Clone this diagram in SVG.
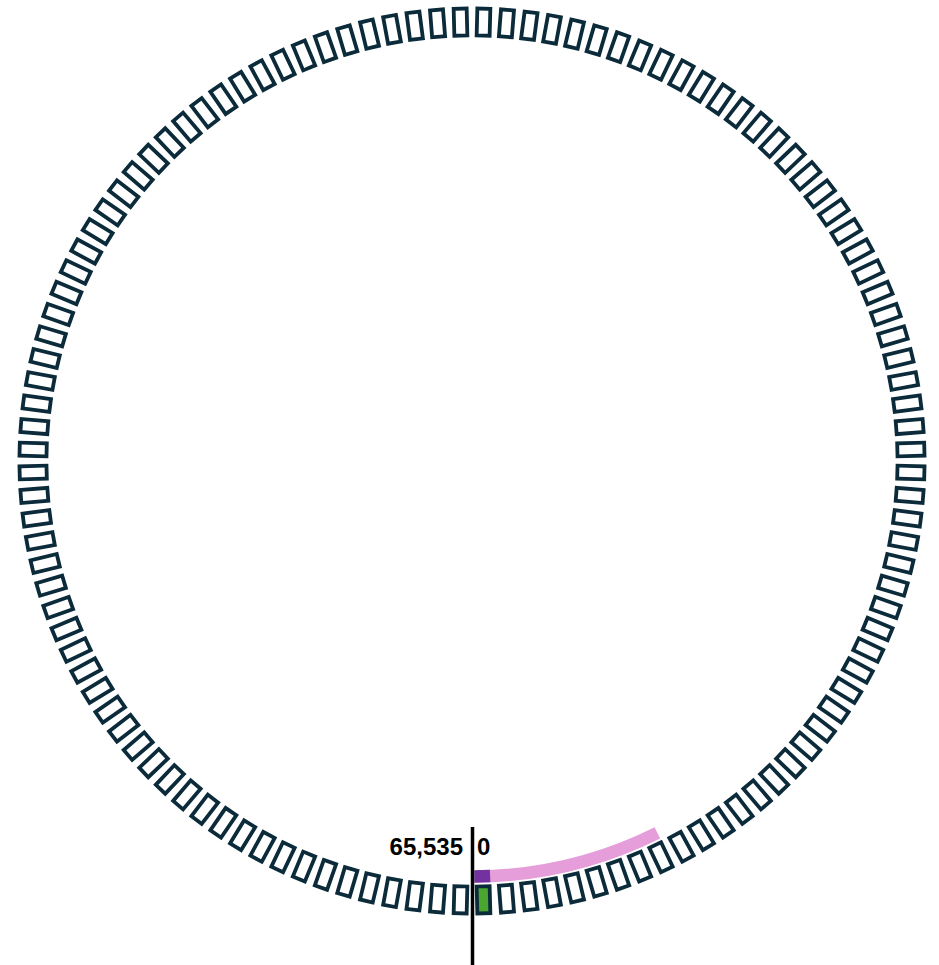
<svg xmlns="http://www.w3.org/2000/svg" xmlns:xlink="http://www.w3.org/1999/xlink" width="939" height="965" viewBox="0 0 939 965">
<style>
.slot{fill:#ffffff;stroke:#0b2a3a;stroke-width:3.8}
.cur{fill:#4ba630}
.lbl{font-family:"Liberation Sans",Arial,sans-serif;font-weight:bold;font-size:24px;fill:#000}
</style>
<defs>
<rect id="s" x="465.5" y="886.5" width="13" height="27"/>
</defs>
<rect width="939" height="965" fill="#fff"/>
<g id="range">
<path d="M 475.26 876.5 A 415.5 415.5 0 0 0 657.39 832.84" fill="none" stroke="#e59ed9" stroke-width="12.5"/>
<path d="M 474.3 876.5 A 415.5 415.5 0 0 0 490.12 876.1" fill="none" stroke="#7232a0" stroke-width="12.5"/>
</g>
<g id="slots">
<g id="slot-0"><use xlink:href="#s" class="slot cur" transform="rotate(-1.5 472 461)"/></g>
<g id="slot-1"><use xlink:href="#s" class="slot" transform="rotate(-4.5 472 461)"/></g>
<g id="slot-2"><use xlink:href="#s" class="slot" transform="rotate(-7.5 472 461)"/></g>
<g id="slot-3"><use xlink:href="#s" class="slot" transform="rotate(-10.5 472 461)"/></g>
<g id="slot-4"><use xlink:href="#s" class="slot" transform="rotate(-13.5 472 461)"/></g>
<g id="slot-5"><use xlink:href="#s" class="slot" transform="rotate(-16.5 472 461)"/></g>
<g id="slot-6"><use xlink:href="#s" class="slot" transform="rotate(-19.5 472 461)"/></g>
<g id="slot-7"><use xlink:href="#s" class="slot" transform="rotate(-22.5 472 461)"/></g>
<g id="slot-8"><use xlink:href="#s" class="slot" transform="rotate(-25.5 472 461)"/></g>
<g id="slot-9"><use xlink:href="#s" class="slot" transform="rotate(-28.5 472 461)"/></g>
<g id="slot-10"><use xlink:href="#s" class="slot" transform="rotate(-31.5 472 461)"/></g>
<g id="slot-11"><use xlink:href="#s" class="slot" transform="rotate(-34.5 472 461)"/></g>
<g id="slot-12"><use xlink:href="#s" class="slot" transform="rotate(-37.5 472 461)"/></g>
<g id="slot-13"><use xlink:href="#s" class="slot" transform="rotate(-40.5 472 461)"/></g>
<g id="slot-14"><use xlink:href="#s" class="slot" transform="rotate(-43.5 472 461)"/></g>
<g id="slot-15"><use xlink:href="#s" class="slot" transform="rotate(-46.5 472 461)"/></g>
<g id="slot-16"><use xlink:href="#s" class="slot" transform="rotate(-49.5 472 461)"/></g>
<g id="slot-17"><use xlink:href="#s" class="slot" transform="rotate(-52.5 472 461)"/></g>
<g id="slot-18"><use xlink:href="#s" class="slot" transform="rotate(-55.5 472 461)"/></g>
<g id="slot-19"><use xlink:href="#s" class="slot" transform="rotate(-58.5 472 461)"/></g>
<g id="slot-20"><use xlink:href="#s" class="slot" transform="rotate(-61.5 472 461)"/></g>
<g id="slot-21"><use xlink:href="#s" class="slot" transform="rotate(-64.5 472 461)"/></g>
<g id="slot-22"><use xlink:href="#s" class="slot" transform="rotate(-67.5 472 461)"/></g>
<g id="slot-23"><use xlink:href="#s" class="slot" transform="rotate(-70.5 472 461)"/></g>
<g id="slot-24"><use xlink:href="#s" class="slot" transform="rotate(-73.5 472 461)"/></g>
<g id="slot-25"><use xlink:href="#s" class="slot" transform="rotate(-76.5 472 461)"/></g>
<g id="slot-26"><use xlink:href="#s" class="slot" transform="rotate(-79.5 472 461)"/></g>
<g id="slot-27"><use xlink:href="#s" class="slot" transform="rotate(-82.5 472 461)"/></g>
<g id="slot-28"><use xlink:href="#s" class="slot" transform="rotate(-85.5 472 461)"/></g>
<g id="slot-29"><use xlink:href="#s" class="slot" transform="rotate(-88.5 472 461)"/></g>
<g id="slot-30"><use xlink:href="#s" class="slot" transform="rotate(-91.5 472 461)"/></g>
<g id="slot-31"><use xlink:href="#s" class="slot" transform="rotate(-94.5 472 461)"/></g>
<g id="slot-32"><use xlink:href="#s" class="slot" transform="rotate(-97.5 472 461)"/></g>
<g id="slot-33"><use xlink:href="#s" class="slot" transform="rotate(-100.5 472 461)"/></g>
<g id="slot-34"><use xlink:href="#s" class="slot" transform="rotate(-103.5 472 461)"/></g>
<g id="slot-35"><use xlink:href="#s" class="slot" transform="rotate(-106.5 472 461)"/></g>
<g id="slot-36"><use xlink:href="#s" class="slot" transform="rotate(-109.5 472 461)"/></g>
<g id="slot-37"><use xlink:href="#s" class="slot" transform="rotate(-112.5 472 461)"/></g>
<g id="slot-38"><use xlink:href="#s" class="slot" transform="rotate(-115.5 472 461)"/></g>
<g id="slot-39"><use xlink:href="#s" class="slot" transform="rotate(-118.5 472 461)"/></g>
<g id="slot-40"><use xlink:href="#s" class="slot" transform="rotate(-121.5 472 461)"/></g>
<g id="slot-41"><use xlink:href="#s" class="slot" transform="rotate(-124.5 472 461)"/></g>
<g id="slot-42"><use xlink:href="#s" class="slot" transform="rotate(-127.5 472 461)"/></g>
<g id="slot-43"><use xlink:href="#s" class="slot" transform="rotate(-130.5 472 461)"/></g>
<g id="slot-44"><use xlink:href="#s" class="slot" transform="rotate(-133.5 472 461)"/></g>
<g id="slot-45"><use xlink:href="#s" class="slot" transform="rotate(-136.5 472 461)"/></g>
<g id="slot-46"><use xlink:href="#s" class="slot" transform="rotate(-139.5 472 461)"/></g>
<g id="slot-47"><use xlink:href="#s" class="slot" transform="rotate(-142.5 472 461)"/></g>
<g id="slot-48"><use xlink:href="#s" class="slot" transform="rotate(-145.5 472 461)"/></g>
<g id="slot-49"><use xlink:href="#s" class="slot" transform="rotate(-148.5 472 461)"/></g>
<g id="slot-50"><use xlink:href="#s" class="slot" transform="rotate(-151.5 472 461)"/></g>
<g id="slot-51"><use xlink:href="#s" class="slot" transform="rotate(-154.5 472 461)"/></g>
<g id="slot-52"><use xlink:href="#s" class="slot" transform="rotate(-157.5 472 461)"/></g>
<g id="slot-53"><use xlink:href="#s" class="slot" transform="rotate(-160.5 472 461)"/></g>
<g id="slot-54"><use xlink:href="#s" class="slot" transform="rotate(-163.5 472 461)"/></g>
<g id="slot-55"><use xlink:href="#s" class="slot" transform="rotate(-166.5 472 461)"/></g>
<g id="slot-56"><use xlink:href="#s" class="slot" transform="rotate(-169.5 472 461)"/></g>
<g id="slot-57"><use xlink:href="#s" class="slot" transform="rotate(-172.5 472 461)"/></g>
<g id="slot-58"><use xlink:href="#s" class="slot" transform="rotate(-175.5 472 461)"/></g>
<g id="slot-59"><use xlink:href="#s" class="slot" transform="rotate(-178.5 472 461)"/></g>
<g id="slot-60"><use xlink:href="#s" class="slot" transform="rotate(-181.5 472 461)"/></g>
<g id="slot-61"><use xlink:href="#s" class="slot" transform="rotate(-184.5 472 461)"/></g>
<g id="slot-62"><use xlink:href="#s" class="slot" transform="rotate(-187.5 472 461)"/></g>
<g id="slot-63"><use xlink:href="#s" class="slot" transform="rotate(-190.5 472 461)"/></g>
<g id="slot-64"><use xlink:href="#s" class="slot" transform="rotate(-193.5 472 461)"/></g>
<g id="slot-65"><use xlink:href="#s" class="slot" transform="rotate(-196.5 472 461)"/></g>
<g id="slot-66"><use xlink:href="#s" class="slot" transform="rotate(-199.5 472 461)"/></g>
<g id="slot-67"><use xlink:href="#s" class="slot" transform="rotate(-202.5 472 461)"/></g>
<g id="slot-68"><use xlink:href="#s" class="slot" transform="rotate(-205.5 472 461)"/></g>
<g id="slot-69"><use xlink:href="#s" class="slot" transform="rotate(-208.5 472 461)"/></g>
<g id="slot-70"><use xlink:href="#s" class="slot" transform="rotate(-211.5 472 461)"/></g>
<g id="slot-71"><use xlink:href="#s" class="slot" transform="rotate(-214.5 472 461)"/></g>
<g id="slot-72"><use xlink:href="#s" class="slot" transform="rotate(-217.5 472 461)"/></g>
<g id="slot-73"><use xlink:href="#s" class="slot" transform="rotate(-220.5 472 461)"/></g>
<g id="slot-74"><use xlink:href="#s" class="slot" transform="rotate(-223.5 472 461)"/></g>
<g id="slot-75"><use xlink:href="#s" class="slot" transform="rotate(-226.5 472 461)"/></g>
<g id="slot-76"><use xlink:href="#s" class="slot" transform="rotate(-229.5 472 461)"/></g>
<g id="slot-77"><use xlink:href="#s" class="slot" transform="rotate(-232.5 472 461)"/></g>
<g id="slot-78"><use xlink:href="#s" class="slot" transform="rotate(-235.5 472 461)"/></g>
<g id="slot-79"><use xlink:href="#s" class="slot" transform="rotate(-238.5 472 461)"/></g>
<g id="slot-80"><use xlink:href="#s" class="slot" transform="rotate(-241.5 472 461)"/></g>
<g id="slot-81"><use xlink:href="#s" class="slot" transform="rotate(-244.5 472 461)"/></g>
<g id="slot-82"><use xlink:href="#s" class="slot" transform="rotate(-247.5 472 461)"/></g>
<g id="slot-83"><use xlink:href="#s" class="slot" transform="rotate(-250.5 472 461)"/></g>
<g id="slot-84"><use xlink:href="#s" class="slot" transform="rotate(-253.5 472 461)"/></g>
<g id="slot-85"><use xlink:href="#s" class="slot" transform="rotate(-256.5 472 461)"/></g>
<g id="slot-86"><use xlink:href="#s" class="slot" transform="rotate(-259.5 472 461)"/></g>
<g id="slot-87"><use xlink:href="#s" class="slot" transform="rotate(-262.5 472 461)"/></g>
<g id="slot-88"><use xlink:href="#s" class="slot" transform="rotate(-265.5 472 461)"/></g>
<g id="slot-89"><use xlink:href="#s" class="slot" transform="rotate(-268.5 472 461)"/></g>
<g id="slot-90"><use xlink:href="#s" class="slot" transform="rotate(-271.5 472 461)"/></g>
<g id="slot-91"><use xlink:href="#s" class="slot" transform="rotate(-274.5 472 461)"/></g>
<g id="slot-92"><use xlink:href="#s" class="slot" transform="rotate(-277.5 472 461)"/></g>
<g id="slot-93"><use xlink:href="#s" class="slot" transform="rotate(-280.5 472 461)"/></g>
<g id="slot-94"><use xlink:href="#s" class="slot" transform="rotate(-283.5 472 461)"/></g>
<g id="slot-95"><use xlink:href="#s" class="slot" transform="rotate(-286.5 472 461)"/></g>
<g id="slot-96"><use xlink:href="#s" class="slot" transform="rotate(-289.5 472 461)"/></g>
<g id="slot-97"><use xlink:href="#s" class="slot" transform="rotate(-292.5 472 461)"/></g>
<g id="slot-98"><use xlink:href="#s" class="slot" transform="rotate(-295.5 472 461)"/></g>
<g id="slot-99"><use xlink:href="#s" class="slot" transform="rotate(-298.5 472 461)"/></g>
<g id="slot-100"><use xlink:href="#s" class="slot" transform="rotate(-301.5 472 461)"/></g>
<g id="slot-101"><use xlink:href="#s" class="slot" transform="rotate(-304.5 472 461)"/></g>
<g id="slot-102"><use xlink:href="#s" class="slot" transform="rotate(-307.5 472 461)"/></g>
<g id="slot-103"><use xlink:href="#s" class="slot" transform="rotate(-310.5 472 461)"/></g>
<g id="slot-104"><use xlink:href="#s" class="slot" transform="rotate(-313.5 472 461)"/></g>
<g id="slot-105"><use xlink:href="#s" class="slot" transform="rotate(-316.5 472 461)"/></g>
<g id="slot-106"><use xlink:href="#s" class="slot" transform="rotate(-319.5 472 461)"/></g>
<g id="slot-107"><use xlink:href="#s" class="slot" transform="rotate(-322.5 472 461)"/></g>
<g id="slot-108"><use xlink:href="#s" class="slot" transform="rotate(-325.5 472 461)"/></g>
<g id="slot-109"><use xlink:href="#s" class="slot" transform="rotate(-328.5 472 461)"/></g>
<g id="slot-110"><use xlink:href="#s" class="slot" transform="rotate(-331.5 472 461)"/></g>
<g id="slot-111"><use xlink:href="#s" class="slot" transform="rotate(-334.5 472 461)"/></g>
<g id="slot-112"><use xlink:href="#s" class="slot" transform="rotate(-337.5 472 461)"/></g>
<g id="slot-113"><use xlink:href="#s" class="slot" transform="rotate(-340.5 472 461)"/></g>
<g id="slot-114"><use xlink:href="#s" class="slot" transform="rotate(-343.5 472 461)"/></g>
<g id="slot-115"><use xlink:href="#s" class="slot" transform="rotate(-346.5 472 461)"/></g>
<g id="slot-116"><use xlink:href="#s" class="slot" transform="rotate(-349.5 472 461)"/></g>
<g id="slot-117"><use xlink:href="#s" class="slot" transform="rotate(-352.5 472 461)"/></g>
<g id="slot-118"><use xlink:href="#s" class="slot" transform="rotate(-355.5 472 461)"/></g>
<g id="slot-119"><use xlink:href="#s" class="slot" transform="rotate(-358.5 472 461)"/></g>
</g>
<g id="connectors">
<line x1="472.5" y1="827" x2="472.5" y2="965" stroke="#000" stroke-width="3.5"/>
</g>
<g id="labels">
<text class="lbl" x="463" y="855" text-anchor="end">65,535</text>
<text class="lbl" x="477" y="855">0</text>
</g>
</svg>
